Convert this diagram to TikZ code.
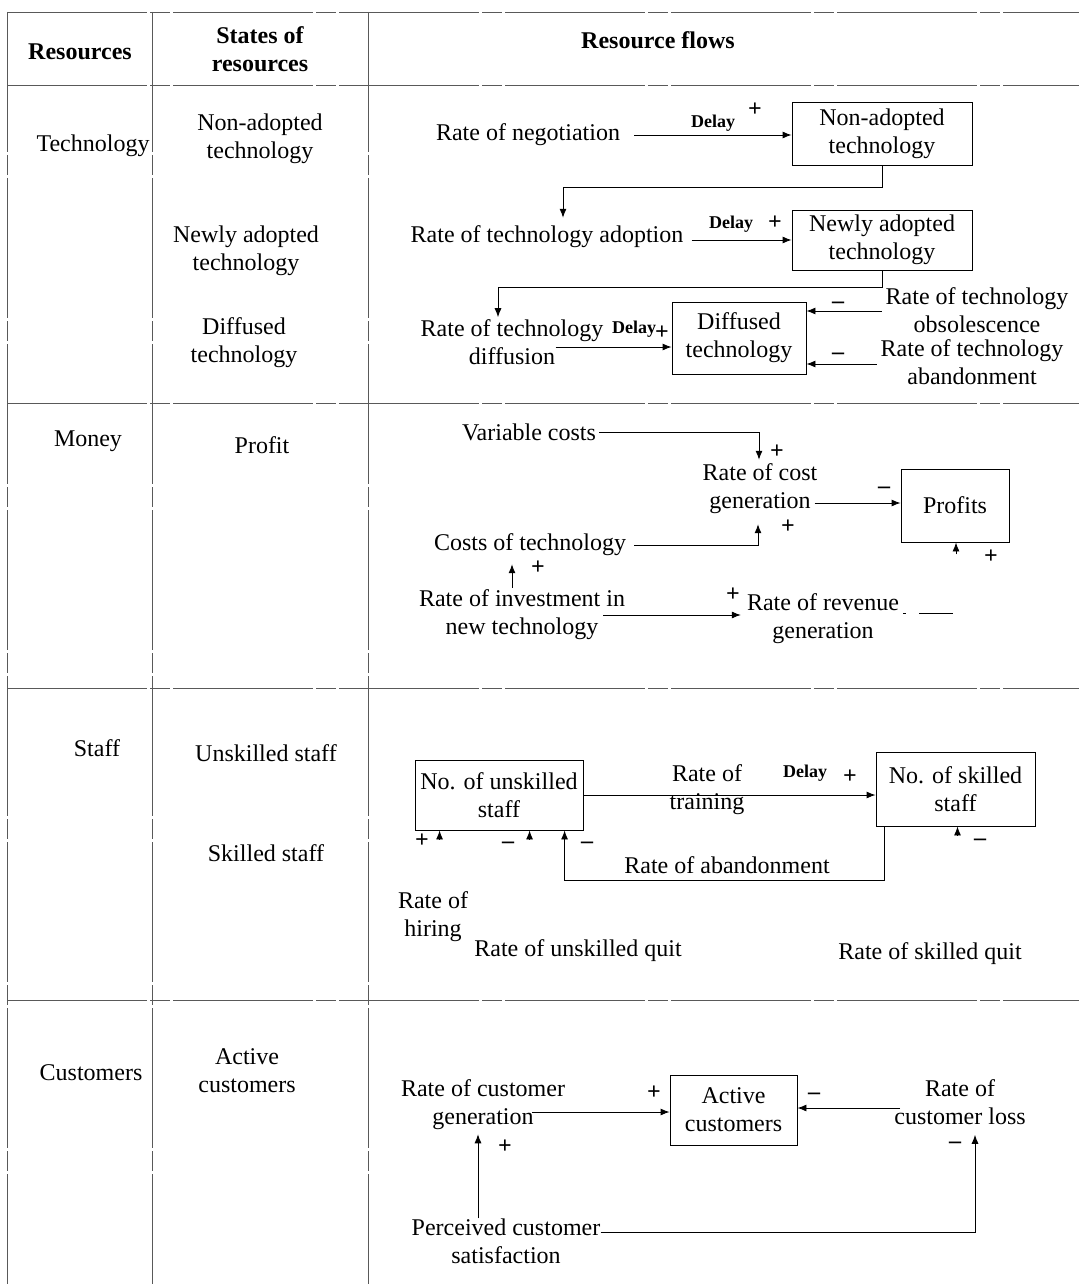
\documentclass[tikz,border=0pt]{standalone}
\usepackage{fontspec}
\setmainfont{Liberation Serif}
\usetikzlibrary{arrows.meta,calc}
\begin{document}
\begin{tikzpicture}[x=1pt,y=-1pt,
  lbl/.style={inner sep=0pt,align=center,font=\fontsize{24}{28}\selectfont},
  head/.style={inner sep=0pt,align=center,font=\fontsize{24}{28}\selectfont\bfseries},
  stock/.style={draw,line width=0.9pt,inner sep=0pt,align=center,font=\fontsize{24}{28}\selectfont},
  arr/.style={line width=0.9pt,-{Latex[length=9pt,width=7pt]}},
  link/.style={line width=0.9pt},
  grid/.style={line width=0.8pt,black!65,dash pattern=on 140pt off 3pt on 20pt off 3pt},
  dly/.style={inner sep=0pt,font=\fontsize{18}{18}\selectfont\bfseries},
  sgn/.style={inner sep=0pt,font=\fontsize{24}{24}\selectfont\bfseries},
]
\useasboundingbox (0,0) rectangle (1079,1284);
\fill[white] (0,0) rectangle (1079,1284);

% ---- table frame ----
\draw[grid] (7,12) -- (1079,12);
\draw[grid] (7,85) -- (1079,85);
\draw[grid] (7,403) -- (1079,403);
\draw[grid] (7,688) -- (1079,688);
\draw[grid] (7,1000) -- (1079,1000);
\draw[grid] (7,12) -- (7,1284);
\draw[grid] (152,12) -- (152,1284);
\draw[grid] (368,12) -- (368,1284);

% ---- headers ----
\node[head] (hres) at (80,52) {Resources};
\node[head] (hstate) at (260,49) {States of\\resources};
\node[head] (hflow) at (658,40) {Resource flows};

% ---- resources ----
\node[lbl] (rtech) at (93,146) {Technology};
\node[lbl] (rmoney) at (88,441) {Money};
\node[lbl] (rstaff) at (97,748) {Staff};
\node[lbl] (rcust) at (91,1073) {Customers};

% ---- states ----
\node[lbl] (snon) at (260,139) {Non-adopted\\technology};
\node[lbl] (snew) at (246,251) {Newly adopted\\technology};
\node[lbl] (sdiff) at (244,343) {Diffused\\technology};
\node[lbl] (sprofit) at (262,445) {Profit};
\node[lbl] (sunsk) at (266,753) {Unskilled staff};
\node[lbl] (ssk) at (266,853) {Skilled staff};
\node[lbl] (sact) at (247,1071) {Active\\customers};

% ---- technology flows ----
\node[lbl] (negot) at (528,135) {Rate of negotiation};
\node[stock,minimum width=180,minimum height=63] (nonbox) at (882,133.5) {Non-adopted\\technology};
\node[lbl] (adopt) at (547,237) {Rate of technology adoption};
\node[stock,minimum width=180,minimum height=60] (newbox) at (882,240) {Newly adopted\\technology};
\node[lbl] (diffusion) at (512,342) {Rate of technology\\diffusion};
\node[stock,minimum width=134,minimum height=72] (diffbox) at (739,338) {Diffused\\technology};
\node[lbl] (obsol) at (977,310) {Rate of technology\\obsolescence};
\node[lbl] (aband) at (972,362) {Rate of technology\\abandonment};

\draw[arr] ($(negot.east)+(14,0)$) -- (negot.east -| nonbox.west);
\node[dly] (d1) at (713,123) {Delay};
\node[sgn] (p1) at (755,110) {+};

\draw[arr] (nonbox.south) -- ++(0,22) -| ($(adopt.north)+(16,-8)$);

\draw[arr] ($(adopt.east)+(8,3)$) -- ($(adopt.east -| newbox.west)+(0,3)$);
\node[dly] (d2) at (731,224) {Delay};
\node[sgn] (p2) at (775,223) {+};

\draw[arr] (newbox.south) -- ++(0,17) -| ($(diffusion.north)+(-14,-2)$);

\draw[arr] ($(diffusion.east)+(-48,5)$) -- ($(diffusion.east -| diffbox.west)+(0,5)$);
\node[dly] (d3) at (634,329) {Delay};
\node[sgn] (p3) at (662,333) {+};

\draw[arr] ($(obsol.west)+(-4,1)$) -- ($(obsol.west -| diffbox.east)+(0,1)$);
\node[sgn] (m1) at (838,305) {–};
\draw[arr] ($(aband.west)+(-4,2)$) -- ($(aband.west -| diffbox.east)+(0,2)$);
\node[sgn] (m2) at (838,356) {–};

% ---- money flows ----
\node[lbl] (varc) at (529,432) {Variable costs};
\node[lbl] (costgen) at (760,489) {Rate of cost\\generation};
\node[stock,minimum width=108,minimum height=73] (profbox) at (955,505.5) {Profits};
\node[lbl] (costtech) at (530,545) {Costs of technology};
\node[lbl] (invest) at (522,615) {Rate of investment in\\new technology};
\node[lbl] (revenue) at (823,619) {Rate of revenue\\generation};

\draw[arr] ($(varc.east)+(3,0)$) -| ($(costgen.north)+(-1,-4)$);
\node[sgn] (p4) at (777,452) {+};
\draw[arr] ($(costgen.east)+(-3,14)$) -- ($(costgen.east -| profbox.west)+(0,14)$);
\node[sgn] (m3) at (884,490) {–};
\draw[arr] ($(costtech.east)+(8,0)$) -| ($(costgen.south)+(-2,10)$);
\node[sgn] (p5) at (788,527) {+};
\draw[arr] ($(invest.north)+(-10,-2)$) -- ($(costtech.south)+(-18,8)$);
\node[sgn] (p6) at (538,568) {+};
\draw[arr] ($(invest.east)+(-22,0)$) -- ($(invest.east -| revenue.west)+(-6,0)$);
\node[sgn] (p7) at (733,595) {+};
\draw[link] ($(revenue.east)+(4,-6)$) -- ++(3,0);
\draw[link] ($(revenue.east)+(20,-6)$) -- ++(34,0);
\draw[arr] ($(profbox.south)+(1,12)$) -- ($(profbox.south)+(1,0)$);
\node[sgn] (p8) at (991,557) {+};

% ---- staff flows ----
\node[stock,minimum width=168,minimum height=70] (unskbox) at (499,795) {No. of unskilled\\staff};
\node[stock,minimum width=159,minimum height=74] (skbox) at (955.5,789) {No. of skilled\\staff};
\node[lbl] (training) at (707,790) {Rate of\\training};
\node[lbl] (abandon) at (727,865) {Rate of abandonment};
\node[lbl] (hiring) at (433,917) {Rate of\\hiring};
\node[lbl] (unskquit) at (578,951) {Rate of unskilled quit};
\node[lbl] (skquit) at (930,954) {Rate of skilled quit};

\draw[arr] (unskbox.east) -- (unskbox.east -| skbox.west);
\node[dly] (d4) at (805,773) {Delay};
\node[sgn] (p9) at (850,777) {+};
\draw[arr] ($(skbox.south west)+(9,0)$) -- ++(0,54) -| ($(unskbox.south west)+(150,0)$);
\node[sgn] (m4) at (587,845) {–};
\draw[arr] ($(unskbox.south west)+(25,9)$) -- ($(unskbox.south west)+(25,0)$);
\node[sgn] (p10) at (422,841) {+};
\draw[arr] ($(unskbox.south west)+(115,9)$) -- ($(unskbox.south west)+(115,0)$);
\node[sgn] (m5) at (508,845) {–};
\draw[arr] ($(skbox.south)+(2,9)$) -- ($(skbox.south)+(2,0)$);
\node[sgn] (m6) at (980,842) {–};

% ---- customer flows ----
\node[lbl] (custgen) at (483,1105) {Rate of customer\\generation};
\node[stock,minimum width=127,minimum height=70] (actbox) at (733.5,1110) {Active\\customers};
\node[lbl] (custloss) at (960,1102) {Rate of\\customer loss};
\node[lbl] (percv) at (506,1241) {Perceived customer\\satisfaction};

\draw[arr] ($(custgen.east)+(-33,7)$) -- ($(custgen.east -| actbox.west)+(0,7)$);
\node[sgn] (p11) at (654,1093) {+};
\draw[arr] ($(custloss.west)+(6,6)$) -- ($(custloss.west -| actbox.east)+(0,6)$);
\node[sgn] (m7) at (814,1096) {–};
\draw[arr] ($(percv.north)+(-28,0)$) -- ($(custgen.south)+(-5,4)$);
\node[sgn] (p12) at (505,1147) {+};
\draw[arr] ($(percv.east)+(0,-9)$) -| ($(custloss.south)+(15,10)$);
\node[sgn] (m8) at (955,1145) {–};
\end{tikzpicture}
\end{document}
